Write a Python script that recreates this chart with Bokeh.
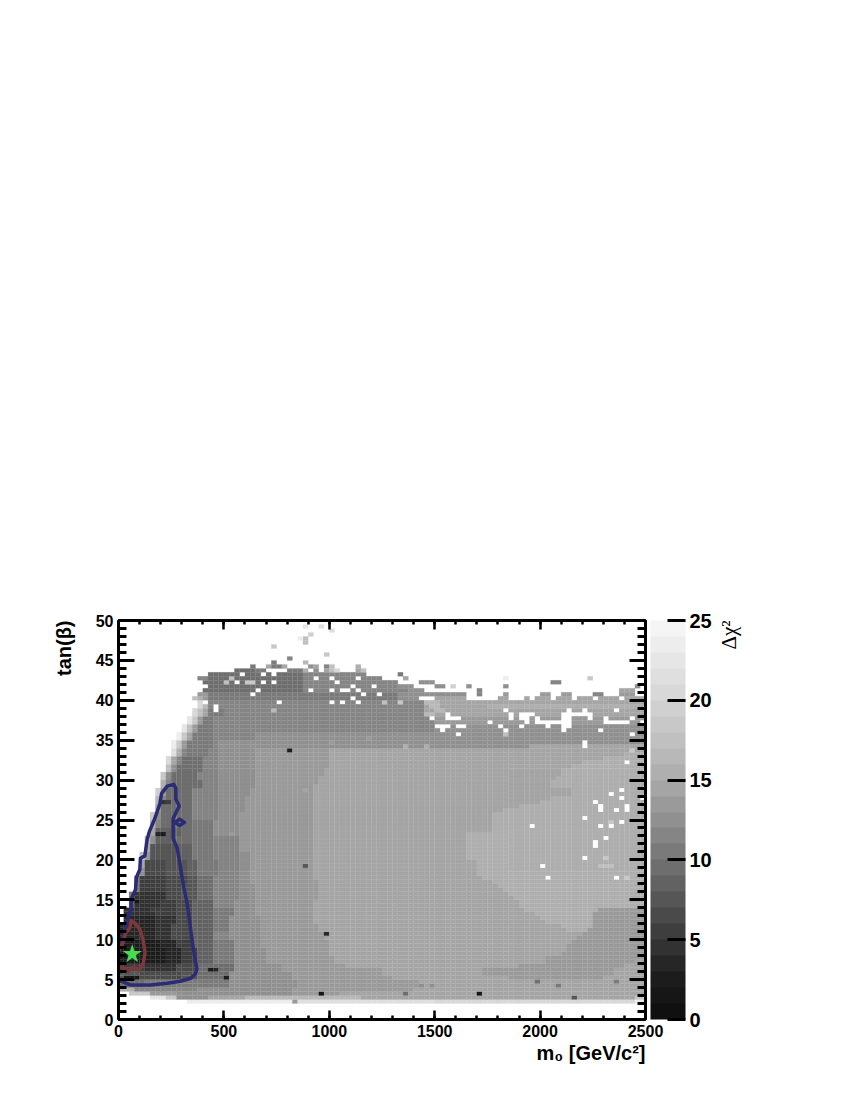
from bokeh.plotting import figure
from bokeh.layouts import row
from bokeh.models import (Range1d, LinearAxis, SingleIntervalTicker, FixedTicker, ColumnDataSource,
                          LinearColorMapper, ColorBar, Label, Title)
from bokeh.transform import transform
from bokeh.embed import file_html
from bokeh.resources import INLINE

# ---- palette: one grey per unit of delta chi2 (levels 0..24)
GREYS = [0x10,0x16,0x1c,0x26,0x32,0x3e,0x4a,0x56,0x62,0x6e,0x7a,0x85,0x90,0x9a,0xa5,0xaf,
         0xb8,0xc0,0xc8,0xd0,0xd8,0xdf,0xe6,0xed,0xf5]

NX, NY = 100, 100      # 25 GeV x 0.5 tan(beta) bins

# ---- low rows, read per bin: j -> (first column, [(end column, level), ...])
LOW_ROWS = {
 4: (13, [(33,23),(60,21),(98,20),(100,23)]),
 5: (6,  [(9,22),(11,18),(17,12),(24,14),(46,16),(98,14),(100,18)]),
 6: (2,  [(6,18),(11,13),(33,12),(42,13),(100,14)]),
 7: (0,  [(3,15),(15,11),(33,12),(56,13),(100,14)]),
}

# ---- funnel rows read per unit of tan(beta): t -> (first column, [(end column, level), ...])
FUNNEL_ROWS = {
 4:  (0, [(5,9),(21,10),(34,12)]),
 5:  (0, [(4,7),(12,6),(15,7),(21,9),(33,12)]),
 6:  (0, [(5,5),(11,4),(15,6),(22,9),(31,12)]),
 7:  (0, [(9,2),(12,3),(15,5),(18,8),(22,10),(28,12)]),
 8:  (0, [(9,2),(12,3),(15,5),(18,8),(22,10),(28,12)]),
 9:  (0, [(8,2),(11,3),(14,5),(18,8),(22,10),(27,12)]),
 10: (0, [(7,3),(10,4),(14,6),(18,8),(21,11),(27,12)]),
 11: (0, [(7,3),(10,4),(14,6),(18,8),(21,10),(27,12)]),
 12: (1, [(7,3),(11,4),(14,6),(18,8),(21,10),(27,12)]),
 13: (1, [(7,4),(11,5),(14,6),(18,8),(22,10),(26,12)]),
 14: (2, [(3,8),(8,4),(11,5),(14,6),(18,8),(22,11),(26,12)]),
 15: (2, [(3,10),(9,4),(12,6),(15,7),(18,9),(23,11),(26,12)]),
 16: (3, [(4,10),(9,5),(12,6),(15,7),(18,9),(23,11),(26,12)]),
 17: (3, [(4,10),(9,5),(13,6),(15,7),(18,9),(23,11),(25,12)]),
 18: (4, [(5,12),(9,6),(13,7),(15,8),(19,10),(23,11),(25,12)]),
 19: (4, [(5,14),(9,6),(13,7),(15,8),(19,10),(23,11),(25,12)]),
 20: (4, [(5,17),(6,13),(11,7),(14,8),(18,10),(23,11),(25,12)]),
 21: (5, [(6,15),(11,7),(14,8),(18,10),(23,11)]),
 22: (5, [(6,16),(7,12),(11,8),(14,9),(18,10),(23,11)]),
 23: (6, [(7,14),(12,8),(14,9),(18,10),(23,12)]),
 24: (6, [(7,15),(8,11),(14,9),(18,10),(23,12)]),
 25: (6, [(7,18),(8,12),(14,9),(19,11),(23,12)]),
 26: (7, [(8,14),(14,9),(19,11),(24,12)]),
 27: (7, [(8,16),(9,11),(14,9),(19,11),(24,12)]),
 28: (7, [(8,19),(9,13),(14,9),(19,11),(25,12)]),
 29: (8, [(9,15),(10,11),(16,9),(19,11),(26,12)]),
 30: (8, [(9,18),(10,12),(15,9),(19,11),(26,12)]),
 31: (9, [(10,17),(11,12),(16,9),(19,11),(26,12)]),
 32: (9, [(10,20),(11,14),(12,11),(16,9),(19,11),(26,12)]),
 33: (10,[(11,21),(12,15),(13,11),(17,10),(19,11),(26,12)]),
}

# column where the light plateau (level 14) begins, per bin row
PLATEAU_START = {8:57,9:57,10:52,11:50,12:50,13:43,14:41,15:41,16:40,17:40,18:40,19:40,20:39,21:39,
                 22:38,23:38,24:37,25:37,26:37,27:37,28:37,29:37,30:38,31:38,32:38,33:38,34:38,
                 35:37,36:37,37:37,38:37,39:37,40:37,41:37,42:37,43:37,44:37,45:37,46:37,47:37,
                 48:37,49:37,50:37,51:37,52:37,53:37,54:37,55:37,56:37,57:37,58:37,59:38,60:38,
                 61:39,62:39,63:40,64:40,65:40,66:40,67:40}

# upper rows, read per bin
TOP_ROWS = {
 68: (10,[(11,23),(12,18),(13,13),(18,10),(19,11),(78,12),(100,14)]),
 69: (10,[(11,23),(12,18),(13,13),(18,10),(19,11),(100,12)]),
 70: (11,[(12,23),(13,18),(14,14),(18,10),(26,11),(100,12)]),
 71: (11,[(12,23),(13,18),(14,14),(18,10),(26,11),(100,12)]),
 72: (12,[(13,22),(14,17),(15,13),(18,10),(60,11),(100,12)]),
 73: (12,[(13,22),(14,17),(15,13),(18,10),(60,11),(100,12)]),
 74: (13,[(14,22),(15,18),(16,13),(18,10),(60,11),(100,13)]),
 75: (13,[(14,22),(15,18),(16,13),(18,10),(60,11),(100,13)]),
 76: (14,[(15,20),(16,17),(17,14),(20,10),(58,11),(100,14)]),
 77: (14,[(15,20),(16,17),(17,14),(20,10),(58,11),(100,14)]),
 78: (15,[(16,20),(17,16),(20,11),(58,11),(70,14),(100,15)]),
 79: (15,[(16,20),(17,16),(20,11),(58,11),(100,14)]),
 80: (14,[(15,17),(16,15),(17,13),(53,10),(58,12),(100,14)]),
 81: (15,[(17,13),(53,10),(66,12)]),
 82: (16,[(35,9),(55,11),(58,12)]),
 83: (17,[(35,9),(53,11),(56,12)]),
 84: (16,[(35,9),(53,11)]),
 85: (15,[(17,11),(35,9),(50,11)]),
 86: (17,[(35,9),(47,11)]),
}

# lighter lobe at large m0: first column per bin row (level 15)
LIGHT_START = {22:85,23:84,24:81,25:80,26:79,27:77,28:76,29:76,30:75,31:74,32:73,33:72,34:71,35:69,
               36:68,37:68,38:68,39:68,40:66,41:66,42:66,43:66,44:66,45:66,46:66,47:71,48:71,49:71,
               50:71,51:71,52:73,53:76,54:80,55:82,56:86,57:86,58:82,59:82,60:83,61:84,62:84,63:86,
               64:88,65:92,66:96}
# darker lobe in the lower right corner (level 13): row -> (first, end)
DARK_SPANS = {10:(74,92),11:(69,94),12:(69,94),13:(76,96),14:(81,98),15:(81,100),16:(84,100),17:(85,100),
              18:(85,100),19:(86,100),20:(87,100),21:(88,100),22:(89,100),23:(90,100),24:(90,100),
              25:(90,100),26:(90,100),27:(91,100)}

# empty (white) bins inside the filled area
WHITE_BINS = [(16,79),(18,78),(18,77),(30,79),(25,81),(26,82),(36,82),(40,82),(42,82),(43,82),(44,83),(45,82),
 (46,81),(49,81),(40,79),(42,79),(44,80),(45,79),(22,84),(23,86),(27,86),(27,84),(29,84),(29,86),(28,87),
 (30,87),(37,85),(40,85),(41,84),(45,85),(48,83),
 (57,80),(58,80),(59,80),(66,80),(67,80),(68,80),(69,80),(70,80),(71,80),(74,80),(75,80),(76,80),(78,80),
 (82,80),(86,80),(90,80),(95,80),
 (73,77),(85,77),(88,77),(94,77),(74,76),(76,76),(77,76),(78,76),(84,76),(85,76),(86,76),(87,76),(88,76),(89,76),
 (74,75),(76,75),(77,75),(79,75),(84,75),(85,75),(89,75),(92,75),(97,75),
 (70,74),(77,74),(79,74),(80,74),(81,74),(82,74),(83,74),(84,74),(85,74),(92,74),(93,74),(94,74),(95,74),(96,74),(99,74),
 (72,73),(76,73),(81,73),(84,73),(85,73),(73,72),(84,72),(91,72),(97,71),(88,69),(88,68),(96,64),(95,57),(93,56),
 (95,55),(99,55),(90,54),(91,53),(91,52),(96,53),(96,52),(94,52),(88,50),(95,49),(78,48),(91,48),(93,48),(92,45),
 (90,44),(90,43),(88,40),(80,38),(81,35),(94,35),
 (59,75),(62,76),(62,75),(63,75),(64,75),(60,73),(61,73),(62,73),(64,73),(65,73),(61,72),(64,71)]

# isolated bins: (column, row, level)
SINGLE_BINS = [(32,67,2),(35,38,7),(39,21,3),(38,6,1),(54,6,9),(68,6,1),(79,9,9),(83,8,10),(86,5,7),(94,9,10),
 (17,12,2),(18,12,3),(20,10,2),(6,27,5),(3,29,1),(7,46,3),(8,46,2),(8,54,4),(9,54,5),(1,10,1),(2,10,1),(3,10,1),
 (57,8,12),(59,8,12),(33,4,13),(29,77,16),(24,84,18),(25,84,18),(20,84,17),(21,85,17),
 (35,98,22),(38,98,21),(40,97,21),(36,96,19),(35,95,17),(35,94,17),(34,95,23),(29,93,18),(39,91,18),(32,90,11),
 (35,89,16),(29,89,10),(25,88,10),(28,88,14),(29,88,10),(30,88,10),(31,88,14),(36,88,12),(37,88,14),(39,88,11),
 (40,88,17),(45,88,15),(22,87,9),(23,87,9),(24,87,9),(25,87,9),(26,87,10),(27,87,10),(30,87,9),(32,87,10),
 (33,87,10),(34,87,10),(35,87,15),(37,87,12),(39,87,14),(40,87,17),(41,87,20),(45,87,14),(46,87,17),(53,86,10),
 (54,85,14),(57,84,12),(58,84,12),(59,84,12),(60,83,12),(61,83,12),(63,83,19),(66,83,12),(68,82,11),(73,83,12),
 (73,85,23),(82,84,11),(83,84,11),(89,85,18),(90,81,11),(91,81,11),(95,82,14),(96,82,14),(97,82,14),(98,83,12),
 (73,81,13),(80,81,13),(81,81,13),(84,81,13),(85,81,13),(95,81,13),(96,81,13),(97,81,13),(68,81,11),
 (58,76,16),(59,76,16),(60,77,16),(59,78,16),(60,78,16),(58,79,16),(59,79,16),(60,79,16),(61,77,16),(45,79,17),(50,79,17),
 (53,79,18),(73,71,17),(97,67,18),(92,40,18),(91,38,17),(92,38,17),(93,38,17),(96,35,18),(93,49,18),
 (47,70,13),(51,67,14),(54,68,15),(58,68,15),(40,69,13),(38,63,13),(35,57,14),(33,58,13),(21,46,13)]

# contours
BLUE_M0  = [0,9.5,57,152,231,294,342,365,372,365,354,345,337,331,323,310,299,289,278,259,259,259,288,272,272,262,
            231,204,196,171,147,136,125,104,101,85,81,60,60,41,33,14,0]
BLUE_TAN = [4.7,4.8,4.33,4.33,4.54,4.8,5.17,5.7,6.33,7.4,9.0,10.7,12.4,13.6,14.9,16.5,18.2,19.9,21.5,22.7,24.0,25.2,
            26.75,27.6,29.0,29.45,29.25,28.3,27.0,25.1,23.6,22.6,20.5,20.2,18.8,17.8,16.3,15.1,13.8,12.4,11.1,9.9,9.6]
ISLAND_M0  = [268,290,313,290,268]
ISLAND_TAN = [24.7,25.1,24.7,24.3,24.7]
RED_M0  = [0,14,49,72,96,117,126,117,101,81,60,54,33,22,9.5,0]
RED_TAN = [6.4,6.55,6.1,6.55,6.2,6.95,8.4,9.9,11.3,12.0,12.4,11.5,10.8,9.7,9.0,8.6]
BEST_M0, BEST_TAN = [65], [8.2]

X_TICK = 500
Y_TICK = 5
CBAR_TICKS = [0, 5, 10, 15, 20, 25]
X_TITLE = "m\u2080 [GeV/c\u00b2]"
Y_TITLE = "tan(\u03b2)"
Z_TITLE = "\u0394\u03c7\u00b2"

# ---- assemble the table of levels
grid = {}
def fill(j, start, segs):
    c = start
    for end, lvl in segs:
        for k in range(c, end):
            grid[(k, j)] = lvl
        c = end
    return c

for j, (s, segs) in LOW_ROWS.items():
    fill(j, s, segs)
for t, (s, segs) in FUNNEL_ROWS.items():
    for j in (2*t, 2*t+1):
        c = fill(j, s, segs)
        fill(j, c, [(max(c, PLATEAU_START[j]), 13), (100, 14)])
for j, (s, segs) in TOP_ROWS.items():
    fill(j, s, segs)
for j, first in LIGHT_START.items():
    end = DARK_SPANS[j][0] if j in DARK_SPANS else 100
    fill(j, first, [(end, 15)])
for j, (a, b) in DARK_SPANS.items():
    fill(j, a, [(b, 13)])
for c, j, lvl in SINGLE_BINS:
    grid[(c, j)] = lvl
for key in WHITE_BINS:
    grid.pop(key, None)

left, right, bottom, top, val = [], [], [], [], []
for (c, j), lvl in grid.items():
    left.append(c*25); right.append((c+1)*25)
    bottom.append(j*0.5); top.append((j+1)*0.5)
    val.append(lvl + 0.5)

palette = ["#%02x%02x%02x" % (g, g, g) for g in GREYS]
mapper = LinearColorMapper(palette=palette, low=0, high=25)

L, R, T, B = 118, 68, 620, 60
H = T + 399 + B
p = figure(width=L+527+R, height=H, output_backend="svg", toolbar_location=None,
           x_range=Range1d(0, 2500), y_range=Range1d(0, 50), x_axis_location=None, y_axis_location=None,
           min_border_left=L, min_border_right=R, min_border_top=T, min_border_bottom=B)
p.outline_line_color = None
p.grid.visible = False
p.background_fill_color = "white"

src = ColumnDataSource(dict(left=left, right=right, bottom=bottom, top=top, val=val))
p.quad(left="left", right="right", bottom="bottom", top="top", source=src,
       fill_color=transform("val", mapper), line_color=transform("val", mapper), line_width=0.2)

p.line(BLUE_M0, BLUE_TAN, line_color="#2c2c74", line_width=3.5, line_join="round")
p.line(ISLAND_M0, ISLAND_TAN, line_color="#2c2c74", line_width=3.5, line_join="round")
p.line(RED_M0, RED_TAN, line_color="#7c383c", line_width=3.5, line_join="round")
p.scatter(BEST_M0, BEST_TAN, marker="star", size=20, fill_color="#46dc50", line_color=None)

def style_axis(ax, tick_in, minor_in, width, labelled, size="16px"):
    ax.axis_line_color = "black"; ax.axis_line_width = 3
    ax.major_tick_line_color = "black"; ax.minor_tick_line_color = "black"
    ax.major_tick_line_width = width; ax.minor_tick_line_width = width
    ax.major_tick_in = tick_in; ax.major_tick_out = 0
    ax.minor_tick_in = minor_in; ax.minor_tick_out = 0
    if labelled:
        ax.major_label_text_font = "Liberation Sans"
        ax.major_label_text_font_style = "bold"
        ax.major_label_text_font_size = size
        ax.major_label_text_color = "black"
        ax.major_label_standoff = 5
    else:
        ax.major_label_text_font_size = "0px"
        ax.major_label_text_color = None

xt = lambda: SingleIntervalTicker(interval=X_TICK, num_minor_ticks=5)
yt = lambda: SingleIntervalTicker(interval=Y_TICK, num_minor_ticks=5)
for loc, ticker, args in [("below", xt(), (9, 4, 2.5, True)), ("above", xt(), (9, 4, 2.5, False)),
                          ("left", yt(), (16, 8, 3, True))]:
    ax = LinearAxis(ticker=ticker)
    style_axis(ax, *args)
    p.add_layout(ax, loc)

# right frame axis; its empty label standoff pushes the next axis out to the colour bar's right side
rax = LinearAxis(ticker=yt())
style_axis(rax, 16, 8, 3, False)
rax.major_label_standoff = 40
p.add_layout(rax, "right")

bar_axis = LinearAxis(ticker=FixedTicker(ticks=[]))
style_axis(bar_axis, 0, 0, 3, False)
bar_axis.major_label_standoff = 0
p.add_layout(bar_axis, "right")

cb = ColorBar(color_mapper=mapper, ticker=FixedTicker(ticks=CBAR_TICKS), location=(532, 0), width=35, height=399,
              padding=0, margin=0, major_tick_in=18, major_tick_out=0, major_tick_line_color="black",
              major_tick_line_width=3, minor_tick_line_color=None, bar_line_color=None, border_line_color=None,
              background_fill_color=None, label_standoff=4, major_label_text_font="Liberation Sans",
              major_label_text_font_style="bold", major_label_text_font_size="20px", major_label_text_color="black")
p.add_layout(cb, "center")

p.add_layout(Title(text=X_TITLE, align="right", text_font="Liberation Sans", text_font_style="bold",
                   text_font_size="20px", text_color="black", standoff=1), "below")
p.add_layout(Title(text=Y_TITLE, align="right", text_font="Liberation Sans", text_font_style="bold",
                   text_font_size="20px", text_color="black", standoff=36), "left")

# small neighbour figure that only carries the colour bar's rotated title
p2 = figure(width=45, height=H, output_backend="svg", toolbar_location=None, x_range=Range1d(0, 45),
            y_range=Range1d(0, H), x_axis_location=None, y_axis_location=None,
            min_border_left=0, min_border_right=0, min_border_top=0, min_border_bottom=0)
p2.outline_line_color = None
p2.grid.visible = False
p2.add_layout(Label(x=15, y=H, text=Z_TITLE, text_align="right", text_baseline="alphabetic", angle=90,
                    angle_units="deg", text_font="Liberation Serif", text_font_size="21px", text_color="black"))

open("out.html", "w").write(file_html(row(p, p2), INLINE))
